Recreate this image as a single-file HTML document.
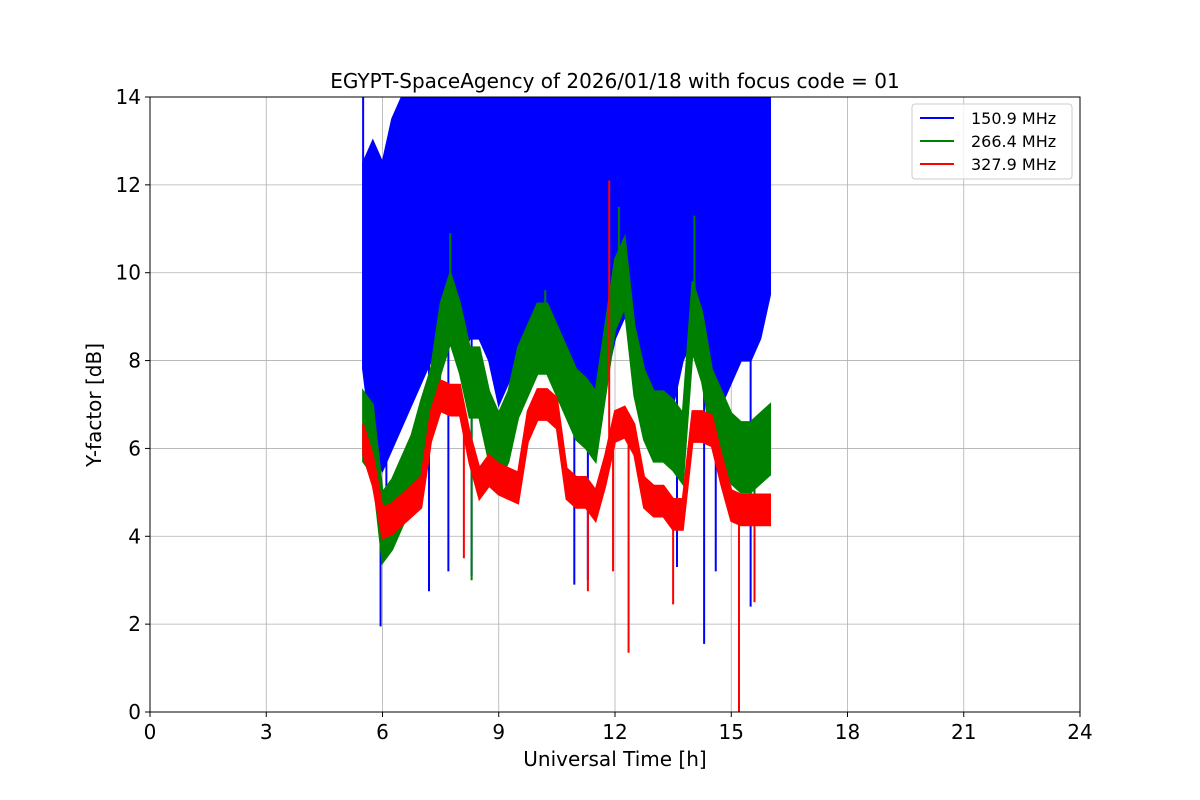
<!DOCTYPE html>
<html><head><meta charset="utf-8"><style>
body{margin:0;background:#fff;}
svg{display:block;font-family:"DejaVu Sans","Liberation Sans",sans-serif;}
</style></head><body>
<svg id="c" width="1200" height="800"></svg>
<script>
const times=[5.5,5.75,6,6.25,6.5,6.75,7,7.25,7.5,7.75,8,8.25,8.5,8.75,9,9.25,9.5,9.75,10,10.25,10.5,10.75,11,11.25,11.5,11.75,12,12.25,12.5,12.75,13,13.25,13.5,13.75,14,14.25,14.5,14.75,15,15.25,15.5,15.75,16];
const blueLo=[7.8,6,5.5,6,6.5,7,7.5,8,8.5,8.5,8,8.5,8.5,8,7,7.5,8,8.2,8.5,8.3,8,7.5,6.5,6.5,7,7.5,8.5,9,8.5,7.5,7,6.5,7,8,8.5,8,7.5,7,7.5,8,8,8.5,9.5];
const blueHi=[12.5,13,12.5,13.5,14,14,14,14,14,14,14,14,14,14,14,14,14,14,14,14,14,14,14,14,14,14,14,14,14,14,14,14,14,14,14,14,14,14,14,14,14,14,14];
const blueSpikeT=[5.5,5.95,6.1,7.2,7.7,8.3,10.95,11.3,13.6,14.3,14.6,15.5];
const blueSpikeV=[14,1.95,4,2.75,3.2,3.1,2.9,3.0,3.3,1.55,3.2,2.4];
const green=[6.5,6.2,4.2,4.5,5,5.5,6.3,7,8.5,9.2,8.5,7.5,7.5,6.5,6,6.5,7.5,8,8.5,8.5,8,7.5,7,6.8,6.5,8,9.5,10,8,7,6.5,6.5,6.3,6,9,8.3,7,6.5,6,5.8,5.8,6,6.2];
const greenSpikeT=[7.75,8.3,10.2,12.1,14.05,15.6];
const greenSpikeV=[10.9,3.0,9.6,11.5,11.3,4.4];
const red=[6.2,5.5,4.3,4.4,4.6,4.8,5,6.5,7.2,7.1,7.1,6,5.2,5.5,5.3,5.2,5.1,6.5,7,7,6.8,5.2,5,5,4.7,5.5,6.5,6.6,6.2,5,4.8,4.8,4.5,4.5,6.5,6.5,6.4,5.5,4.7,4.6,4.6,4.6,4.6];
const redSpikeT=[11.85,12.35,15.2,13.5,11.3,8.1,11.95,15.6];
const redSpikeV=[12.1,1.35,0,2.45,2.75,3.5,3.2,2.5];
const xTicks=[0,3,6,9,12,15,18,21,24];
const yTicks=[0,2,4,6,8,10,12,14];
const legendLabels=["150.9 MHz","266.4 MHz","327.9 MHz"];
const legendColors=["#0000ff","#008000","#ff0000"];

const L=150,R=1080,T=97,B=712;
const X=v=>L+(v/24)*(R-L), Y=v=>B-(v/14)*(B-T);
const svg=document.getElementById('c');const NS="http://www.w3.org/2000/svg";
function el(t,a,p){const e=document.createElementNS(NS,t);for(const k in a)e.setAttribute(k,a[k]);(p||svg).appendChild(e);return e;}
xTicks.forEach(t=>{const g=el('line',{x1:X(t),x2:X(t),y1:T,y2:B,stroke:'#b0b0b0','stroke-width':0.8});

});
yTicks.forEach(t=>{const g=el('line',{x1:L,x2:R,y1:Y(t),y2:Y(t),stroke:'#b0b0b0','stroke-width':0.8});

});
const clip=el('clipPath',{id:'pc'});el('rect',{x:L,y:T,width:R-L,height:B-T},clip);
const plot=el('g',{'clip-path':'url(#pc)'});


function band(lo,hi,color,name){
  let pts=times.map((t,i)=>X(t)+','+Y(hi[i]));
  for(let i=times.length-1;i>=0;i--)pts.push(X(times[i])+','+Y(lo[i]));
  const p=el('polygon',{points:pts.join(' '),fill:color,stroke:color,'stroke-width':2},plot);
  
  
}
function spikes(ts,vs,base,color,name){
  ts.forEach((t,i)=>{
    let j=0;while(j<times.length-1&&times[j+1]<t)j++;
    const f=Math.min(1,Math.max(0,(t-times[j])/(times[j+1]-times[j])));
    const b=base[j]+(base[j+1]-base[j])*f;
    const s=el('line',{x1:X(t),x2:X(t),y1:Y(b),y2:Y(vs[i]),stroke:color,'stroke-width':2},plot);
    
    
  });
}
band(blueLo,blueHi,'#0000ff','series-150-9-mhz');
spikes(blueSpikeT,blueSpikeV,blueLo,'#0000ff','spike-150-9-mhz');
band(green.map(v=>v-0.8),green.map(v=>v+0.8),'#008000','series-266-4-mhz');
spikes(greenSpikeT,greenSpikeV,green,'#008000','spike-266-4-mhz');
band(red.map(v=>v-0.35),red.map(v=>v+0.35),'#ff0000','series-327-9-mhz');
spikes(redSpikeT,redSpikeV,red,'#ff0000','spike-327-9-mhz');
const fr=el('rect',{x:L,y:T,width:R-L,height:B-T,fill:'none',stroke:'#000','stroke-width':1});


xTicks.forEach(t=>{el('line',{x1:X(t),x2:X(t),y1:B,y2:B+5,stroke:'#000'});
const tx=el('text',{x:X(t),y:B+27,'text-anchor':'middle','font-size':20});tx.textContent=t;

});
yTicks.forEach(t=>{el('line',{x1:L-5,x2:L,y1:Y(t),y2:Y(t),stroke:'#000'});
const tx=el('text',{x:L-9,y:Y(t)+7,'text-anchor':'end','font-size':20});tx.textContent=t;

});
const tt=el('text',{x:615,y:88,'text-anchor':'middle','font-size':20});tt.textContent='EGYPT-SpaceAgency of 2026/01/18 with focus code = 01';


const xl=el('text',{x:615,y:766,'text-anchor':'middle','font-size':20});xl.textContent='Universal Time [h]';


const yl=el('text',{x:0,y:0,'text-anchor':'middle','font-size':20,transform:'translate(101,405) rotate(-90)'});yl.textContent='Y-factor [dB]';


const lg=el('g',{});


el('rect',{x:912,y:104,width:160,height:75,rx:3,fill:'#fff','fill-opacity':0.8,stroke:'#ccc'},lg);
legendLabels.forEach((s,i)=>{const yy=118+i*23;
const ln=el('line',{x1:920,x2:954,y1:yy,y2:yy,stroke:legendColors[i],'stroke-width':2},lg);


const tx=el('text',{x:971,y:yy+6,'font-size':16},lg);tx.textContent=s;

});
</script>
</body></html>
